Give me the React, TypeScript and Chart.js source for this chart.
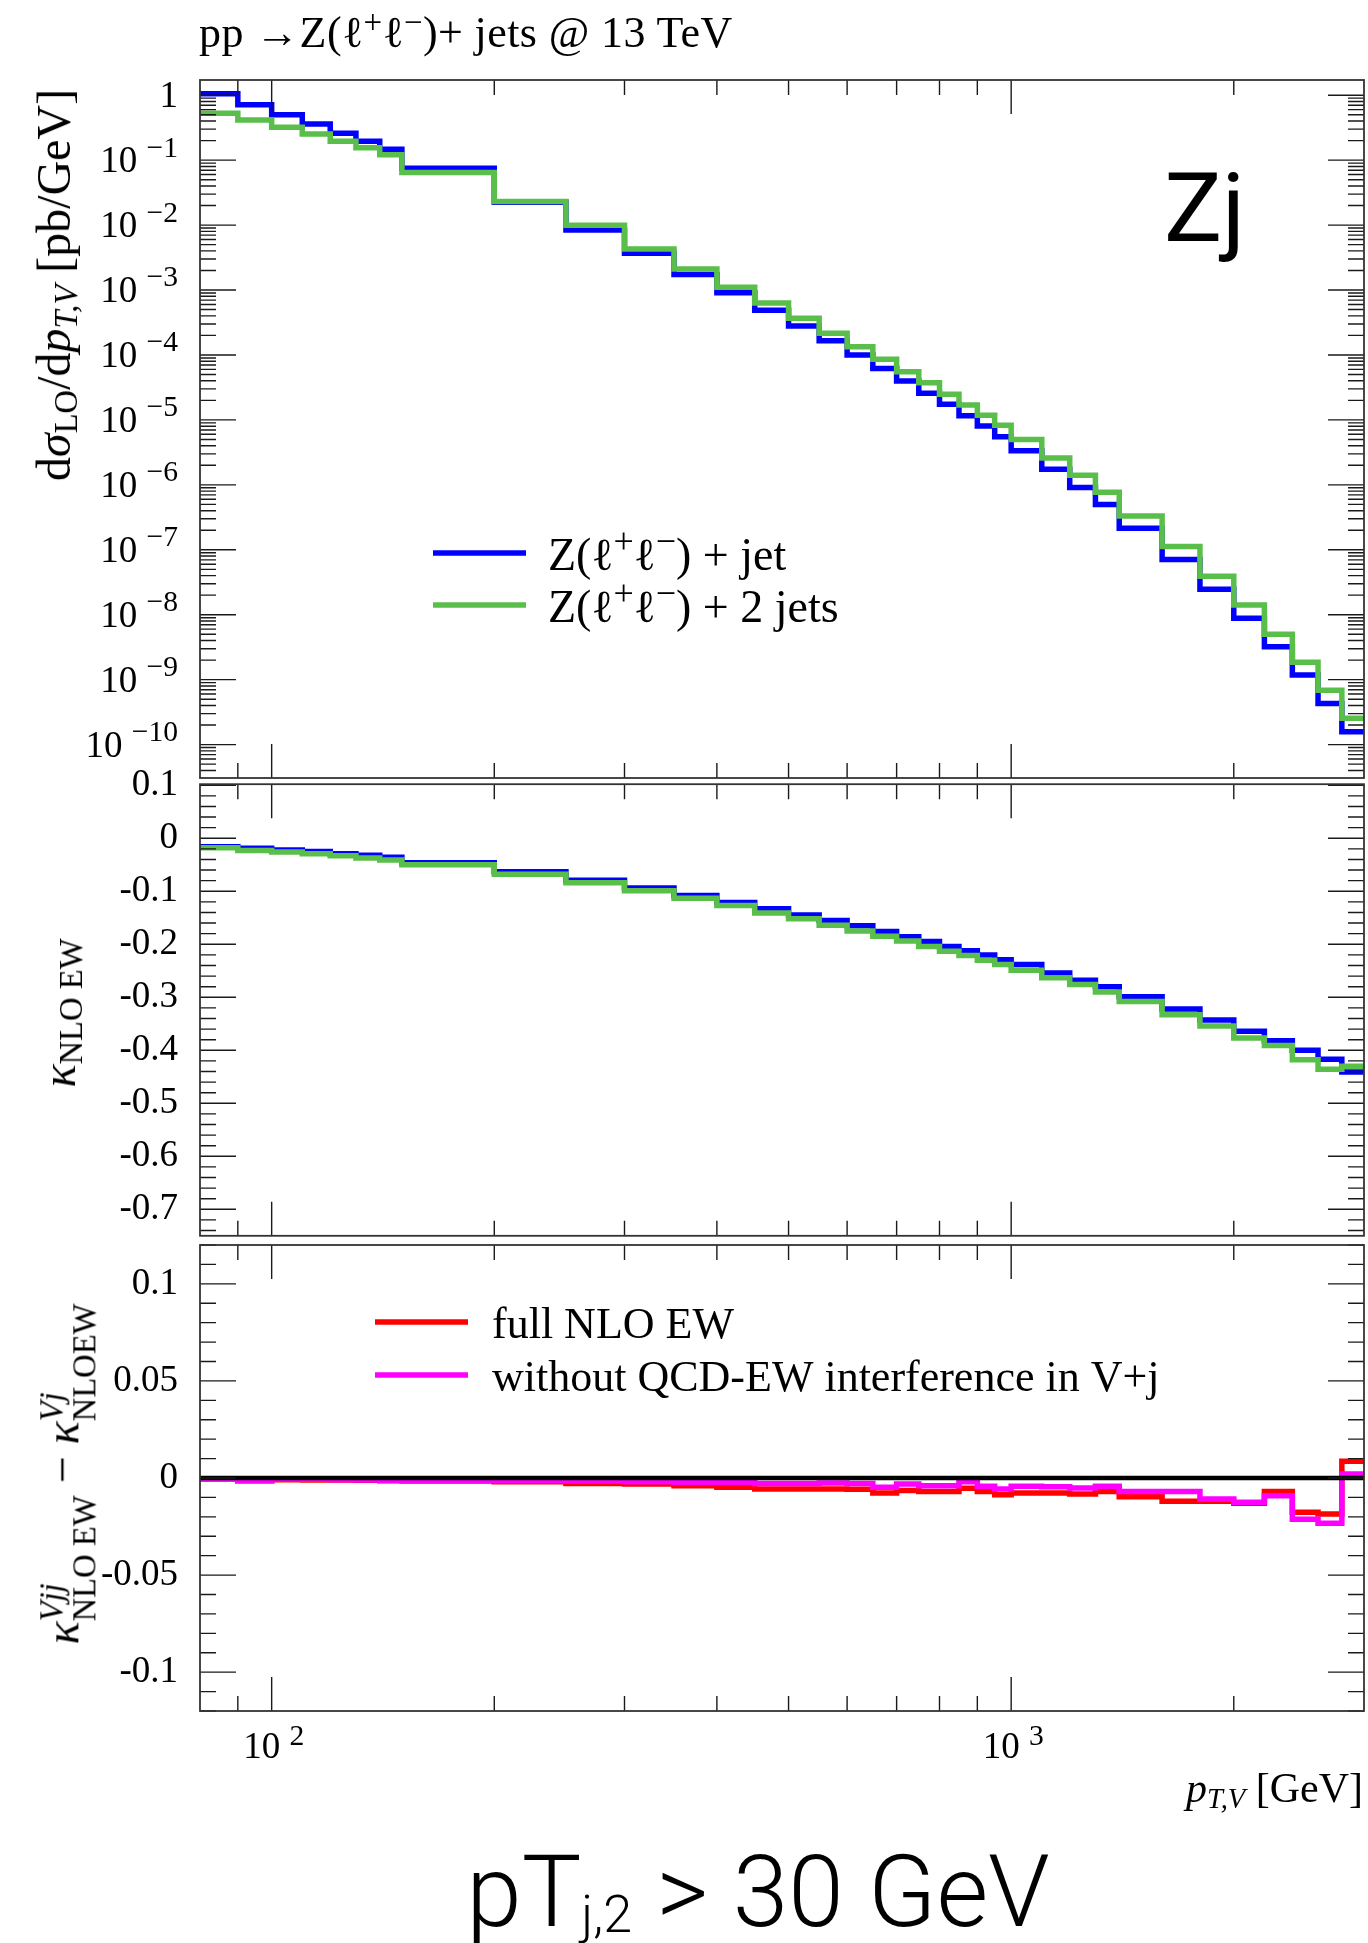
import React, { useEffect, useRef } from "react";
import { Chart, registerables } from "chart.js";

Chart.register(...registerables);

// ---------------- data ----------------
const binEdges = [80, 90, 100, 110, 120, 130, 140, 150, 200, 250, 300, 350, 400, 450, 500, 550, 600, 650, 700, 750, 800, 850, 900, 950, 1000, 1100, 1200, 1300, 1400, 1600, 1800, 2000, 2200, 2400, 2600, 2800, 3000];

const loZj = [1.05, 0.71, 0.5, 0.36, 0.26, 0.195, 0.147, 0.0748, 0.0225, 0.0084, 0.00367, 0.00174, 0.00091, 0.00049, 2.79e-4, 1.66e-4, 1.0e-4, 6.2e-5, 3.97e-5, 2.57e-5, 1.74e-5, 1.16e-5, 8.05e-6, 5.5e-6, 3.36e-6, 1.74e-6, 9.1e-7, 5.0e-7, 2.14e-7, 7.1e-8, 2.46e-8, 8.8e-9, 3.2e-9, 1.18e-9, 4.3e-10, 1.58e-10];
const loZjj = [0.526, 0.415, 0.32, 0.253, 0.196, 0.155, 0.121, 0.0645, 0.023, 0.0099, 0.0043, 0.0021, 0.0011, 0.00063, 3.67e-4, 2.15e-4, 1.34e-4, 8.57e-5, 5.5e-5, 3.74e-5, 2.48e-5, 1.7e-5, 1.18e-5, 8.3e-6, 5.0e-6, 2.59e-6, 1.41e-6, 7.7e-7, 3.3e-7, 1.12e-7, 3.9e-8, 1.41e-8, 5.0e-9, 1.85e-9, 6.9e-10, 2.54e-10];

const kappaZj = [-0.016, -0.019, -0.022, -0.025, -0.029, -0.032, -0.036, -0.046, -0.063, -0.079, -0.094, -0.108, -0.121, -0.133, -0.145, -0.155, -0.165, -0.176, -0.186, -0.195, -0.204, -0.212, -0.22, -0.229, -0.238, -0.254, -0.268, -0.28, -0.299, -0.322, -0.343, -0.364, -0.382, -0.4, -0.417, -0.441];
const kappaZjj = [-0.018, -0.023, -0.026, -0.029, -0.033, -0.037, -0.041, -0.05, -0.068, -0.084, -0.099, -0.113, -0.127, -0.141, -0.152, -0.164, -0.175, -0.185, -0.194, -0.204, -0.213, -0.221, -0.23, -0.238, -0.249, -0.263, -0.276, -0.29, -0.308, -0.333, -0.354, -0.377, -0.391, -0.418, -0.436, -0.43];

const diffFull = [-0.0005, -0.0014, -0.0009, -0.001, -0.001, -0.0012, -0.0014, -0.0016, -0.0019, -0.0028, -0.0031, -0.004, -0.0048, -0.0057, -0.0057, -0.0057, -0.0058, -0.0077, -0.0065, -0.007, -0.0069, -0.0053, -0.0069, -0.0086, -0.0077, -0.0077, -0.0082, -0.007, -0.0096, -0.012, -0.012, -0.013, -0.007, -0.0177, -0.0185, 0.0086];
const diffNoInterference = [-0.0004, -0.0014, -0.0005, -0.0007, -0.0009, -0.001, -0.0012, -0.0012, -0.0014, -0.0016, -0.0019, -0.0022, -0.0022, -0.0028, -0.0028, -0.0026, -0.0028, -0.0048, -0.0031, -0.004, -0.004, -0.0019, -0.0043, -0.0057, -0.0043, -0.0045, -0.0052, -0.0043, -0.0069, -0.0069, -0.0108, -0.0125, -0.0091, -0.0213, -0.0233, 0.002];

const xMajorTicks = [100, 1000];
const xMajorExponents = ["2", "3"];
const xMinorTicks = [90, 200, 300, 400, 500, 600, 700, 800, 900, 2000];

const loDecadeExponents = [0, -1, -2, -3, -4, -5, -6, -7, -8, -9, -10];
const kappaTicks = [0.1, 0, -0.1, -0.2, -0.3, -0.4, -0.5, -0.6, -0.7];
const kappaTickLabels = ["0.1", "0", "-0.1", "-0.2", "-0.3", "-0.4", "-0.5", "-0.6", "-0.7"];
const diffTicks = [0.1, 0.05, 0, -0.05, -0.1];
const diffTickLabels = ["0.1", "0.05", "0", "-0.05", "-0.1"];

const labelZj = "Z(ℓ^{+}ℓ^{−}) + jet";
const labelZjj = "Z(ℓ^{+}ℓ^{−}) + 2 jets";
const labelFull = "full NLO EW";
const labelNoInt = "without QCD-EW interference in V+j";

// ---------------- styles ----------------
const BLUE = "#0000ff";
const GREEN = "#5abf4a";
const RED = "#ff0000";
const MAGENTA = "#ff00ff";
const SERIF = '"Liberation Serif", "DejaVu Serif", serif';
const SANS = 'Roboto, "Liberation Sans", sans-serif';
const W = 1368;
const LINE_W = 5.5;
const TICK_SIZE = 37;

const X_MIN = 80;
const X_MAX = 3000;

function toSteps(values: number[]) {
  return binEdges.map((e, i) => ({ x: e, y: values[Math.max(0, i - 1)] }));
}

function stepDataset(label: string, values: number[], color: string, order: number) {
  return {
    label,
    data: toSteps(values),
    borderColor: color,
    backgroundColor: color,
    borderWidth: LINE_W,
    pointRadius: 0,
    pointHoverRadius: 0,
    stepped: "after" as const,
    fill: false,
    borderJoinStyle: "miter" as const,
    borderCapStyle: "butt" as const,
    order,
  };
}

type RichOpts = { size: number; family: string; align?: "left" | "right" | "center"; supScale?: number; supShift?: number; subShift?: number };

function drawRich(ctx: CanvasRenderingContext2D, text: string, x: number, y: number, o: RichOpts) {
  const parts: { t: string; s: number; dy: number; w: number }[] = [];
  const re = /\^\{([^}]*)\}|_\{([^}]*)\}|([^^_]+)/g;
  let m: RegExpExecArray | null;
  const supScale = o.supScale ?? 0.7;
  while ((m = re.exec(text)) !== null) {
    if (m[1] !== undefined) parts.push({ t: m[1], s: supScale, dy: -(o.supShift ?? 0.38), w: 0 });
    else if (m[2] !== undefined) parts.push({ t: m[2], s: supScale, dy: o.subShift ?? 0.2, w: 0 });
    else parts.push({ t: m[3], s: 1, dy: 0, w: 0 });
  }
  let total = 0;
  for (const p of parts) {
    ctx.font = `${o.size * p.s}px ${o.family}`;
    p.w = ctx.measureText(p.t).width;
    total += p.w;
  }
  let cx = o.align === "right" ? x - total : o.align === "center" ? x - total / 2 : x;
  ctx.textAlign = "left";
  ctx.textBaseline = "alphabetic";
  for (const p of parts) {
    ctx.font = `${o.size * p.s}px ${o.family}`;
    ctx.fillText(p.t, cx, y + p.dy * o.size);
    cx += p.w;
  }
}

function linearMinor(min: number, max: number, step: number, every: number) {
  const out: number[] = [];
  for (let i = Math.ceil(min / step - 1e-9); i <= Math.floor(max / step + 1e-9); i++) {
    if (i % every !== 0) out.push(i * step);
  }
  return out;
}

function logMinor(min: number, max: number) {
  const out: number[] = [];
  for (let e = Math.floor(Math.log10(min)); e <= Math.ceil(Math.log10(max)); e++) {
    for (let k = 2; k <= 9; k++) {
      const v = k * Math.pow(10, e);
      if (v > min && v < max) out.push(v);
    }
  }
  return out;
}

type FrameCfg = { yMajor: number[]; yMinor: number[]; logLabels?: boolean; xLabels?: boolean };

function framePlugin(cfg: FrameCfg) {
  return {
    id: "frameTicks",
    afterDatasetsDraw(chart: any) {
      const { ctx, chartArea: a } = chart;
      const xs = chart.scales.x;
      const ys = chart.scales.y;
      ctx.save();
      ctx.strokeStyle = "#1a1a1a";
      ctx.lineWidth = 1.4;
      ctx.beginPath();
      const seg = (x1: number, y1: number, x2: number, y2: number) => {
        ctx.moveTo(x1, y1);
        ctx.lineTo(x2, y2);
      };
      xMajorTicks.forEach((v) => {
        const p = xs.getPixelForValue(v);
        seg(p, a.top, p, a.top + 34);
        seg(p, a.bottom, p, a.bottom - 34);
      });
      xMinorTicks.forEach((v) => {
        const p = xs.getPixelForValue(v);
        seg(p, a.top, p, a.top + 15);
        seg(p, a.bottom, p, a.bottom - 15);
      });
      cfg.yMajor.forEach((v) => {
        const p = ys.getPixelForValue(v);
        seg(a.left, p, a.left + 36, p);
        seg(a.right, p, a.right - 36, p);
      });
      cfg.yMinor.forEach((v) => {
        const p = ys.getPixelForValue(v);
        seg(a.left, p, a.left + 16, p);
        seg(a.right, p, a.right - 16, p);
      });
      ctx.stroke();
      ctx.strokeStyle = "#333";
      ctx.lineWidth = 1.8;
      ctx.strokeRect(a.left, a.top, a.right - a.left, a.bottom - a.top);

      ctx.fillStyle = "#000";
      if (cfg.logLabels) {
        loDecadeExponents.forEach((e) => {
          const p = ys.getPixelForValue(Math.pow(10, e));
          const txt = e === 0 ? "1" : `10 ^{${e < 0 ? "−" + -e : e}}`;
          drawRich(ctx, txt, a.left - 22, p + 12, { size: TICK_SIZE, family: SERIF, align: "right", supScale: 0.8, supShift: 0.42 });
        });
      }
      if (cfg.xLabels) {
        xMajorTicks.forEach((v, i) => {
          const p = xs.getPixelForValue(v);
          drawRich(ctx, `10 ^{${xMajorExponents[i]}}`, p + 2, a.bottom + 47, { size: TICK_SIZE, family: SERIF, align: "center", supScale: 0.8, supShift: 0.34 });
        });
      }
      ctx.restore();
    },
  };
}

type LegendCfg = { x: number; y: number; rowHeight: number; lineLength: number; gap: number; lineRaise: number; fontSize: number };

function legendPlugin(cfg: LegendCfg) {
  return {
    id: "panelLegend",
    afterDatasetsDraw(chart: any) {
      const ctx = chart.ctx as CanvasRenderingContext2D;
      ctx.save();
      let row = 0;
      chart.data.datasets.forEach((ds: any) => {
        if (!ds.label) return;
        const base = cfg.y + row * cfg.rowHeight;
        ctx.strokeStyle = ds.borderColor;
        ctx.lineWidth = LINE_W;
        ctx.lineCap = "butt";
        ctx.beginPath();
        ctx.moveTo(cfg.x, base - cfg.lineRaise);
        ctx.lineTo(cfg.x + cfg.lineLength, base - cfg.lineRaise);
        ctx.stroke();
        ctx.fillStyle = "#000";
        drawRich(ctx, ds.label, cfg.x + cfg.lineLength + cfg.gap, base, { size: cfg.fontSize, family: SERIF, supScale: 0.78, supShift: 0.38 });
        row++;
      });
      ctx.restore();
    },
  };
}

const tickFont = { family: "Liberation Serif", size: TICK_SIZE };

function xScale() {
  return { type: "logarithmic" as const, min: X_MIN, max: X_MAX, bounds: "data" as const, display: false };
}

const LO_MIN = 3.06e-11;
const LO_MAX = 1.714;
const K_MIN = -0.75;
const K_MAX = 0.102;
const D_MIN = -0.12;
const D_MAX = 0.12;

function baseOptions(padding: { top: number; bottom: number }) {
  return {
    animation: false as const,
    responsive: false,
    maintainAspectRatio: false,
    events: [] as any[],
    layout: { padding: { top: padding.top, bottom: padding.bottom, left: 0, right: 4 } },
    plugins: { legend: { display: false }, tooltip: { enabled: false } },
  };
}

function linearY(min: number, max: number, ticks: number[], labels: string[]) {
  return {
    type: "linear" as const,
    position: "left" as const,
    min,
    max,
    bounds: "data" as const,
    afterFit: (s: any) => {
      s.width = 200;
    },
    afterBuildTicks: (s: any) => {
      s.ticks = ticks.map((v) => ({ value: v }));
    },
    ticks: {
      autoSkip: false,
      padding: 22,
      color: "#000",
      font: tickFont,
      callback: (_v: any, i: number) => labels[i],
    },
    grid: { display: false, drawTicks: false },
    border: { display: false },
  };
}

export default function App() {
  const c1 = useRef<HTMLCanvasElement>(null);
  const c2 = useRef<HTMLCanvasElement>(null);
  const c3 = useRef<HTMLCanvasElement>(null);

  useEffect(() => {
    const chart1 = new Chart(c1.current as HTMLCanvasElement, {
      type: "line",
      data: {
        datasets: [stepDataset(labelZj, loZj, BLUE, 2), stepDataset(labelZjj, loZjj, GREEN, 1)],
      },
      options: {
        ...baseOptions({ top: 80, bottom: 22 }),
        scales: {
          x: xScale(),
          y: {
            type: "logarithmic",
            position: "left",
            min: LO_MIN,
            max: LO_MAX,
            bounds: "data",
            afterFit: (s: any) => {
              s.width = 200;
            },
            ticks: { display: false },
            grid: { display: false, drawTicks: false },
            border: { display: false },
          },
        },
      } as any,
      plugins: [
        framePlugin({ yMajor: loDecadeExponents.map((e) => Math.pow(10, e)), yMinor: logMinor(LO_MIN, LO_MAX), logLabels: true }),
        legendPlugin({ x: 433, y: 570, rowHeight: 52, lineLength: 93, gap: 22, lineRaise: 17, fontSize: 46 }),
      ],
    });

    const chart2 = new Chart(c2.current as HTMLCanvasElement, {
      type: "line",
      data: {
        datasets: [stepDataset("", kappaZj, BLUE, 2), stepDataset("", kappaZjj, GREEN, 1)],
      },
      options: {
        ...baseOptions({ top: 38, bottom: 36 }),
        scales: { x: xScale(), y: linearY(K_MIN, K_MAX, kappaTicks, kappaTickLabels) },
      } as any,
      plugins: [framePlugin({ yMajor: kappaTicks, yMinor: linearMinor(K_MIN, K_MAX, 0.02, 5) })],
    });

    const chart3 = new Chart(c3.current as HTMLCanvasElement, {
      type: "line",
      data: {
        datasets: [
          {
            label: "",
            data: [
              { x: binEdges[0], y: 0 },
              { x: binEdges[binEdges.length - 1], y: 0 },
            ],
            borderColor: "#000",
            borderWidth: 4.5,
            pointRadius: 0,
            fill: false,
            order: 0,
          },
          stepDataset(labelFull, diffFull, RED, 2),
          stepDataset(labelNoInt, diffNoInterference, MAGENTA, 1),
        ],
      },
      options: {
        ...baseOptions({ top: 45, bottom: 232 }),
        scales: { x: xScale(), y: linearY(D_MIN, D_MAX, diffTicks, diffTickLabels) },
      } as any,
      plugins: [
        framePlugin({ yMajor: diffTicks, yMinor: linearMinor(D_MIN, D_MAX, 0.01, 5), xLabels: true }),
        legendPlugin({ x: 375, y: 138, rowHeight: 53, lineLength: 93, gap: 24, lineRaise: 16, fontSize: 44 }),
      ],
    });

    return () => {
      chart1.destroy();
      chart2.destroy();
      chart3.destroy();
    };
  }, []);

  const sup: React.CSSProperties = { fontSize: "0.75em", verticalAlign: "0.42em", lineHeight: 0 };
  const sub: React.CSSProperties = { fontSize: "0.68em", verticalAlign: "-0.22em", lineHeight: 0 };
  const rot = (cx: number, cy: number, size: number): React.CSSProperties => ({
    position: "absolute",
    left: cx,
    top: cy,
    transform: "translate(-50%, -50%) rotate(-90deg)",
    whiteSpace: "nowrap",
    fontFamily: SERIF,
    fontSize: size,
    lineHeight: 1,
    color: "#000",
  });
  const stack = (a: React.ReactNode, b: React.ReactNode) => (
    <span style={{ display: "inline-flex", flexDirection: "column", fontSize: "0.68em", lineHeight: 1, verticalAlign: "16px" }}>
      <span>{a}</span>
      <span>{b}</span>
    </span>
  );

  return (
    <div style={{ position: "absolute", left: 0, top: 0, width: W, height: 1943, background: "#fff", overflow: "hidden" }}>
      <canvas ref={c1} width={W} height={800} style={{ position: "absolute", left: 0, top: 0, width: W, height: 800 }} />
      <canvas ref={c2} width={W} height={540} style={{ position: "absolute", left: 0, top: 740, width: W, height: 540 }} />
      <canvas ref={c3} width={W} height={743} style={{ position: "absolute", left: 0, top: 1200, width: W, height: 743 }} />

      <div style={{ position: "absolute", left: 199, top: 48 - 0.8375 * 44, fontFamily: SERIF, fontSize: 44, lineHeight: 1, whiteSpace: "nowrap", letterSpacing: "0.4px" }}>
        pp →Z(ℓ<span style={sup}>+</span>ℓ<span style={sup}>−</span>)+ jets @ 13 TeV
      </div>

      <div style={{ position: "absolute", left: 1164, top: 242 - 0.8415 * 97, fontFamily: SANS, fontSize: 97, lineHeight: 1, whiteSpace: "nowrap" }}>Zj</div>

      <div style={rot(54, 285, 48)}>
        d<i>σ</i>
        <span style={sub}>LO</span>/d<i>p</i>
        <span style={sub}>
          <i>T,V</i>
        </span>{" "}
        [pb/GeV]
      </div>

      <div style={rot(59, 1013, 48)}>
        <i>κ</i>
        <span style={sub}>NLO EW</span>
      </div>

      <div style={rot(68, 1474, 48)}>
        <i>κ</i>
        {stack(<i>Vjj</i>, "NLO EW")} − <i>κ</i>
        {stack(<i>Vj</i>, "NLOEW")}
      </div>

      <div style={{ position: "absolute", right: W - 1363, top: 1802 - 0.8375 * 42, fontFamily: SERIF, fontSize: 42, lineHeight: 1, whiteSpace: "nowrap" }}>
        <i>p</i>
        <span style={sub}>
          <i>T,V</i>
        </span>{" "}
        [GeV]
      </div>

      <div
        style={{
          position: "absolute",
          left: 758,
          top: 1926 - 0.8415 * 100,
          transform: "translateX(-50%)",
          fontFamily: SANS,
          fontWeight: 300,
          fontSize: 100,
          lineHeight: 1,
          whiteSpace: "nowrap",
        }}
      >
        pT<span style={{ fontSize: 52, lineHeight: 0, verticalAlign: "-6px" }}>j,2</span> &gt; 30 GeV
      </div>
    </div>
  );
}
